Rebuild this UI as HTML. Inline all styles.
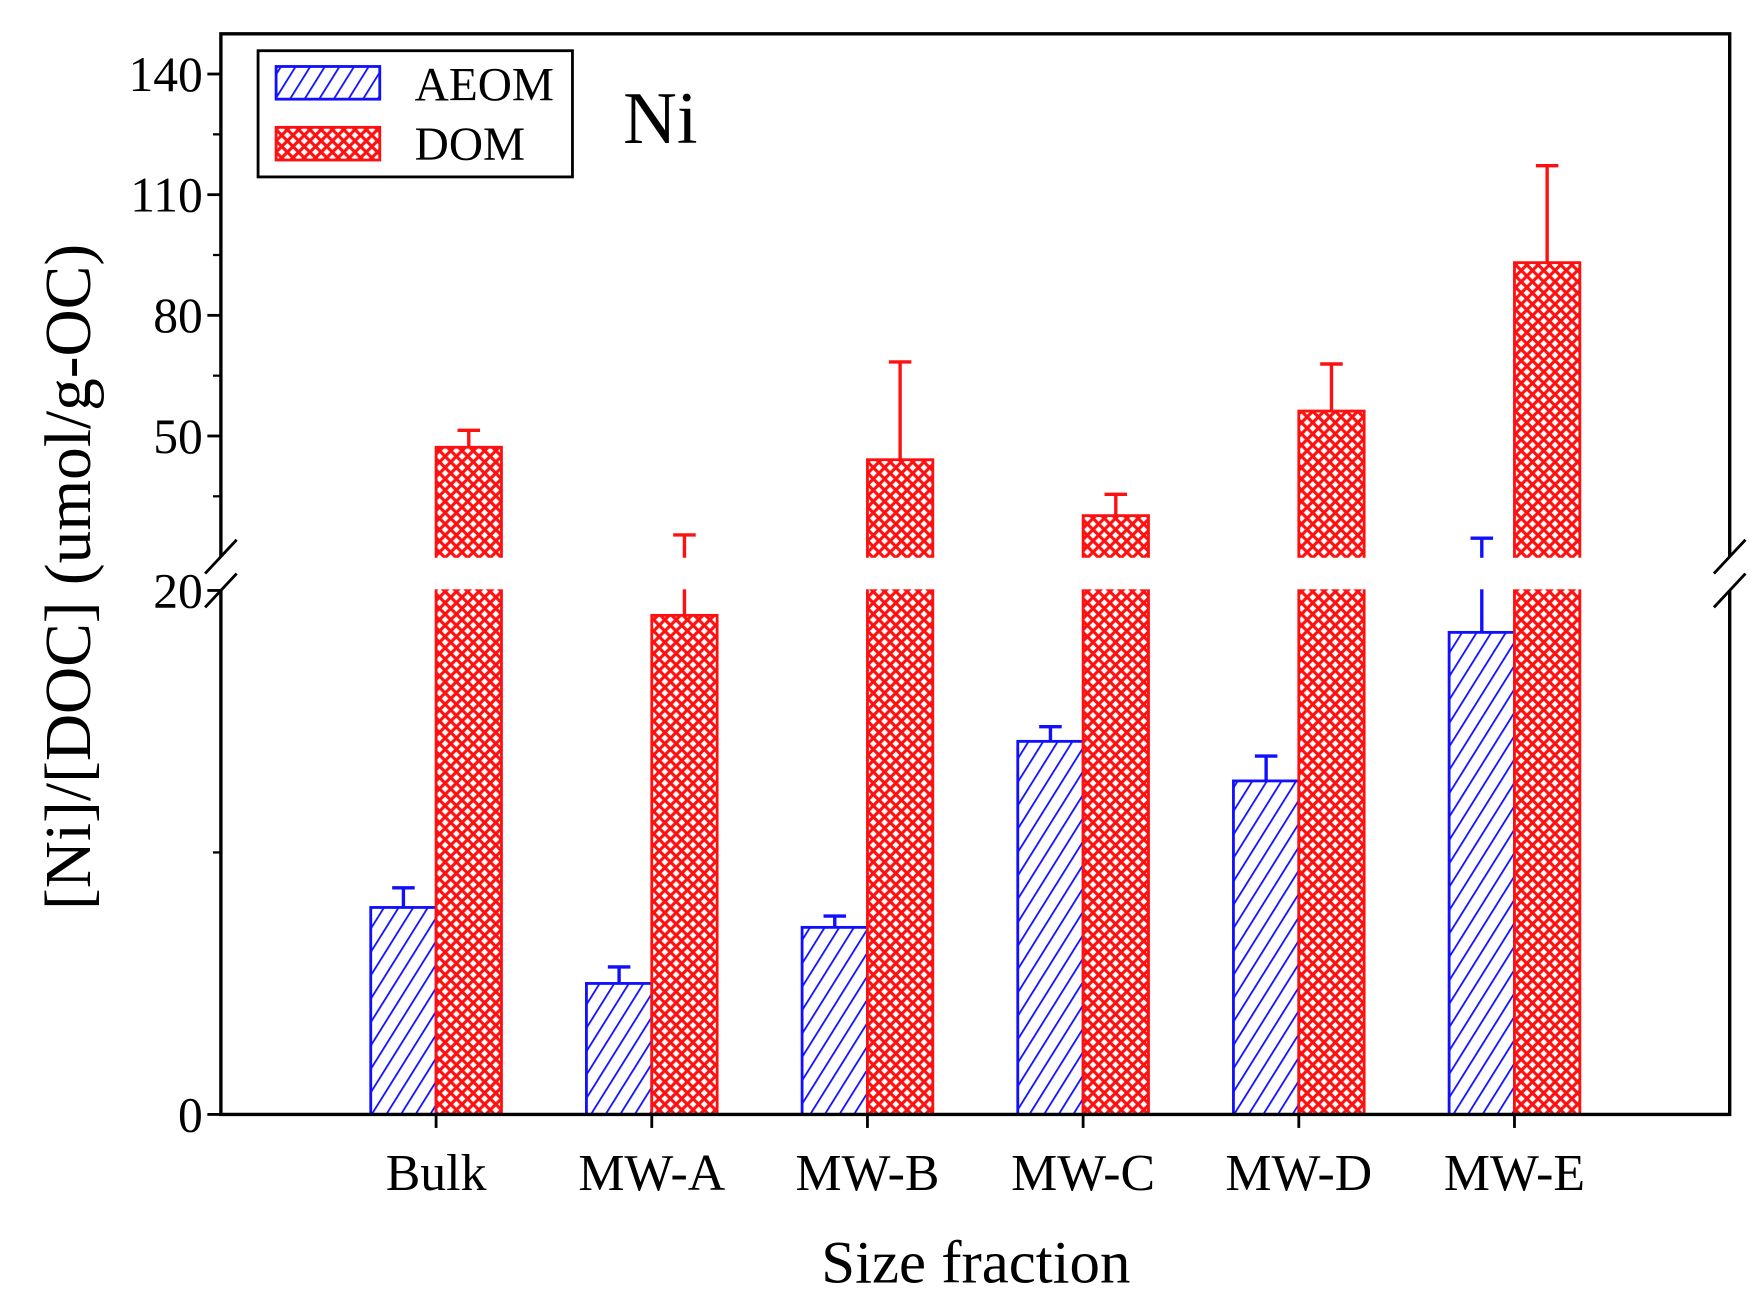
<!DOCTYPE html>
<html><head><meta charset="utf-8"><style>html,body{margin:0;padding:0;background:#fff}svg{display:block}</style></head>
<body>
<svg id="chart" width="1750" height="1315" viewBox="0 0 1553 1167" xmlns="http://www.w3.org/2000/svg" font-family="Liberation Serif, serif">
<defs>
<pattern id="hatchB" patternUnits="userSpaceOnUse" width="11" height="11" patternTransform="rotate(32)">
<rect width="11" height="11" fill="#fff"/><line x1="0" y1="0" x2="0" y2="11" stroke="#1010ff" stroke-width="3.2"/></pattern>
<pattern id="hatchR" patternUnits="userSpaceOnUse" width="10" height="10">
<rect width="10" height="10" fill="#fff"/><path d="M0,0L10,10M10,0L0,10M-2,8L2,12M8,-2L12,2M8,12L12,8M-2,2L2,-2" stroke="#ff1010" stroke-width="2.8"/></pattern>
</defs>
<g id="plot"></g>
</svg>
<script>
const categories=["Bulk","MW-A","MW-B","MW-C","MW-D","MW-E"];
const aeomValues=[7.9,5.0,7.14,14.24,12.73,18.4];
const aeomErrTop=[8.65,5.63,7.57,14.8,13.68,24.6];
const domValues=[47.2,19.05,44.1,30.2,56.2,93.1];
const domErrTop=[51.4,25.4,68.4,35.5,67.9,117.2];
const upperTicks=[50,80,110,140];
const upperMinor=[35,65,95,125];
const lowerTicks=[0,20];
const lowerMinor=[10];
const NS='http://www.w3.org/2000/svg';
const g=document.getElementById('plot');
const L=196,R=1535,T=30,B=989,brkLo=524,brkHi=494;
function y(v){ if(v<=20) return B-(B-brkLo)*v/20; return brkHi-(v-20)*(brkHi-T)/130; }
function x(i){ return 387+i*191.4; }
function el(t,a,parent){const e=document.createElementNS(NS,t);for(const k in a)e.setAttribute(k,a[k]);(parent||g).appendChild(e);return e;}
function bar(i,v,e,side,fill,col,name){
  const bw=58, x0=side<0?x(i)-bw:x(i);
  const yt=y(v);
  const r=el('rect',{x:x0,y:yt,width:bw,height:B-yt,fill:fill,stroke:col,'stroke-width':2.5});
  
  
  const cx=x0+bw/2;
  const eb=el('path',{d:`M${cx},${yt}V${y(e)}M${cx-10},${y(e)}H${cx+10}`,stroke:col,'stroke-width':3,fill:'none'});
  
  
}
categories.forEach((c,i)=>{bar(i,aeomValues[i],aeomErrTop[i],-1,'url(#hatchB)','#1010ff','aeom');bar(i,domValues[i],domErrTop[i],1,'url(#hatchR)','#ff1010','dom');});
const fr=el('path',{d:`M${L},${brkHi}V${T}H${R}V${brkHi}M${R},${brkLo}V${B}H${L}V${brkLo}`,stroke:'#000','stroke-width':3,fill:'none'});

const gap=el('rect',{x:L-20,y:brkHi+1,width:R-L+40,height:brkLo-brkHi-2,fill:'#fff'});

[L,R].forEach(xx=>{[brkHi,brkLo].forEach(yy=>{const b=el('line',{x1:xx-14,y1:yy+15,x2:xx+14,y2:yy-15,stroke:'#000','stroke-width':2.5});
});});
upperTicks.concat(lowerTicks).forEach(v=>{
  el('line',{x1:L-12,y1:y(v),x2:L,y2:y(v),stroke:'#000','stroke-width':2.5});
  const t=el('text',{x:L-16,y:y(v)+15,'text-anchor':'end','font-size':44});t.textContent=v;
  
});
upperMinor.concat(lowerMinor).forEach(v=>el('line',{x1:L-7,y1:y(v),x2:L,y2:y(v),stroke:'#000','stroke-width':2}));
categories.forEach((c,i)=>{
  el('line',{x1:x(i),y1:B,x2:x(i),y2:B+12,stroke:'#000','stroke-width':2.5});
  const t=el('text',{x:x(i),y:1056,'text-anchor':'middle','font-size':46});t.textContent=c;
  
});
const xt=el('text',{x:866,y:1138,'text-anchor':'middle','font-size':54});xt.textContent='Size fraction';

const yt=el('text',{x:0,y:0,'text-anchor':'middle','font-size':58,transform:'translate(80,512) rotate(-90)'});yt.textContent='[Ni]/[DOC] (umol/g-OC)';

const ni=el('text',{x:553,y:127,'font-size':66});ni.textContent='Ni';

const lg=el('g',{});
el('rect',{x:229,y:45,width:279,height:112,fill:'#fff',stroke:'#000','stroke-width':2.5},lg);
el('rect',{x:245,y:59,width:92,height:29,fill:'url(#hatchB)',stroke:'#1010ff','stroke-width':2.5},lg);
el('rect',{x:245,y:113,width:92,height:29,fill:'url(#hatchR)',stroke:'#ff1010','stroke-width':2.5},lg);
const t1=el('text',{x:368,y:89,'font-size':42},lg);t1.textContent='AEOM';

const t2=el('text',{x:368,y:142,'font-size':42},lg);t2.textContent='DOM';

</script>
</body></html>
